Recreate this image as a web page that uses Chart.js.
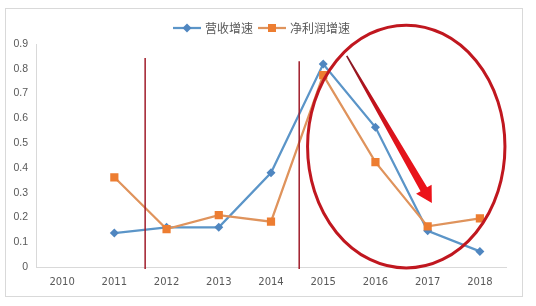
<!DOCTYPE html>
<html>
<head>
<meta charset="utf-8">
<script src="https://cdn.jsdelivr.net/npm/chart.js@4.4.1/dist/chart.umd.min.js"></script>
<style>
  html, body { margin: 0; padding: 0; background: #fff; }
  body { width: 536px; height: 306px; position: relative; overflow: hidden; }
  #frame { position: absolute; left: 5px; top: 8px; width: 518px; height: 289px; box-sizing: border-box; border: 1px solid #d9d9d9; }
  #wrap { position: absolute; left: 6px; top: 9px; width: 516px; height: 287px; }
</style>
</head>
<body>
<div id="frame"></div>
<div id="wrap"><canvas id="c" width="516" height="287"></canvas></div>
<script>
// Year categories and growth rates (fractions)
const years = ['2010', '2011', '2012', '2013', '2014', '2015', '2016', '2017', '2018'];
const revenueGrowth = [null, 0.137, 0.160, 0.160, 0.380, 0.819, 0.564, 0.146, 0.063];
const profitGrowth  = [null, 0.362, 0.153, 0.209, 0.183, 0.774, 0.423, 0.164, 0.196];
const yTickLabels = ['0', '0.1', '0.2', '0.3', '0.4', '0.5', '0.6', '0.7', '0.8', '0.9'];
const seriesNames = ['营收增速', '净利润增速'];

// Hand-drawn highlights, anchored in data space (category index, value)
const dividerAt = [1.59, 4.54];
const dividerTop = [0.844, 0.83];
const focusRing = { cx: 6.59, cy: 0.486, rx: 1.89, ry: 0.49 };
const trendArrow = { from: [5.45, 0.852], to: [7.08, 0.258] };

const BLUE_LINE = '#5b95c8', BLUE_MARK = '#4f86c0';
const ORANGE_LINE = '#df935c', ORANGE_MARK = '#ed7d31';
const TEXT = '#595959';

function legendSwatch(lineColor, markColor, shape) {
  const c = document.createElement('canvas');
  c.width = 28; c.height = 12;
  const g = c.getContext('2d');
  g.strokeStyle = lineColor; g.lineWidth = 2.25;
  g.beginPath(); g.moveTo(0, 6); g.lineTo(28, 6); g.stroke();
  g.fillStyle = markColor;
  if (shape === 'diamond') {
    g.beginPath(); g.moveTo(14, 1.5); g.lineTo(18.5, 6); g.lineTo(14, 10.5); g.lineTo(9.5, 6); g.closePath(); g.fill();
  } else {
    g.fillRect(10, 2, 8, 8);
  }
  return c;
}
const swatches = [legendSwatch(BLUE_LINE, BLUE_MARK, 'diamond'), legendSwatch(ORANGE_LINE, ORANGE_MARK, 'square')];

const highlights = {
  id: 'highlights',
  afterDatasetsDraw(chart) {
    const { ctx, scales: { x, y } } = chart;
    ctx.save();
    // vertical dividers
    ctx.strokeStyle = '#a01c2a';
    ctx.lineWidth = 1.5;
    dividerAt.forEach((d, i) => {
      const px = x.getPixelForValue(d);
      ctx.beginPath();
      ctx.moveTo(px, y.getPixelForValue(dividerTop[i]));
      ctx.lineTo(px, y.getPixelForValue(0) + 2);
      ctx.stroke();
    });
    // ring around the recent years
    const cx = x.getPixelForValue(focusRing.cx), cy = y.getPixelForValue(focusRing.cy);
    const rx = x.getPixelForValue(focusRing.cx + focusRing.rx) - cx;
    const ry = cy - y.getPixelForValue(focusRing.cy + focusRing.ry);
    ctx.strokeStyle = '#c0171f';
    ctx.lineWidth = 3;
    ctx.beginPath();
    ctx.ellipse(cx, cy, rx, ry, 0, 0, Math.PI * 2);
    ctx.stroke();
    // tapered downward arrow
    const sx = x.getPixelForValue(trendArrow.from[0]), sy = y.getPixelForValue(trendArrow.from[1]);
    const tx = x.getPixelForValue(trendArrow.to[0]), ty = y.getPixelForValue(trendArrow.to[1]);
    const len = Math.hypot(tx - sx, ty - sy);
    const ux = (tx - sx) / len, uy = (ty - sy) / len;
    const px = uy, py = -ux;
    const headLen = 16, headHalf = 9, w0 = 0.8, w1 = 3.8;
    const bx = tx - headLen * ux, by = ty - headLen * uy;
    const grad = ctx.createLinearGradient(sx, sy, tx, ty);
    grad.addColorStop(0, '#801a24');
    grad.addColorStop(0.25, '#b8121c');
    grad.addColorStop(0.6, '#e2141c');
    grad.addColorStop(1, '#ee1219');
    ctx.fillStyle = grad;
    ctx.beginPath();
    ctx.moveTo(sx + w0 * px, sy + w0 * py);
    ctx.lineTo(bx + w1 * px, by + w1 * py);
    ctx.lineTo(bx + headHalf * px, by + headHalf * py);
    ctx.lineTo(tx, ty);
    ctx.lineTo(bx - headHalf * px, by - headHalf * py);
    ctx.lineTo(bx - w1 * px, by - w1 * py);
    ctx.lineTo(sx - w0 * px, sy - w0 * py);
    ctx.closePath();
    ctx.fill();
    ctx.restore();
  }
};

new Chart(document.getElementById('c'), {
  type: 'line',
  data: {
    labels: years,
    datasets: [
      {
        label: seriesNames[0], data: revenueGrowth, order: 1,
        borderColor: BLUE_LINE, backgroundColor: BLUE_MARK, borderWidth: 2.25,
        pointStyle: 'rectRot', pointRadius: 4.5, pointBackgroundColor: BLUE_MARK, pointBorderWidth: 0,
        tension: 0, spanGaps: false
      },
      {
        label: seriesNames[1], data: profitGrowth, order: 0,
        borderColor: ORANGE_LINE, backgroundColor: ORANGE_MARK, borderWidth: 2.25,
        pointStyle: 'rect', pointRadius: 5.8, pointBackgroundColor: ORANGE_MARK, pointBorderWidth: 0,
        tension: 0, spanGaps: false
      }
    ]
  },
  options: {
    responsive: false,
    animation: false,
    devicePixelRatio: 1,
    layout: { padding: { left: 13, right: 16, top: 6, bottom: 0 } },
    plugins: {
      tooltip: { enabled: false },
      legend: {
        position: 'top',
        align: 'center',
        labels: {
          usePointStyle: true,
          pointStyleWidth: 24,
          padding: 7,
          color: TEXT,
          font: { family: "'Noto Sans CJK SC', sans-serif", size: 12 },
          generateLabels: () => seriesNames.map((name, i) => ({
            text: name, pointStyle: swatches[i], fillStyle: 'transparent',
            strokeStyle: 'transparent', lineWidth: 0, hidden: false, datasetIndex: i, fontColor: TEXT
          }))
        }
      }
    },
    scales: {
      x: {
        offset: true,
        grid: { display: false, drawTicks: false, offset: true },
        border: { display: true, color: '#d9d9d9', width: 1 },
        ticks: { color: TEXT, font: { family: "'DejaVu Sans', sans-serif", size: 10 }, padding: 9, maxRotation: 0, autoSkip: false },
        afterFit: s => { s.height = 29; }
      },
      y: {
        min: 0, max: 0.9,
        afterBuildTicks: s => { s.ticks = yTickLabels.map(t => ({ value: parseFloat(t) })); },
        grid: { display: false, drawTicks: false },
        border: { display: true, color: '#d9d9d9', width: 1 },
        ticks: { color: TEXT, font: { family: "'Liberation Sans', sans-serif", size: 10.5 }, padding: 8, callback: (v, i) => yTickLabels[i] },
        afterFit: s => {
          s.width = 17;
          // labels reach into the layout padding on the left; let them draw there
          s._computeLabelArea = () => null;
        }
      }
    }
  },
  plugins: [highlights]
});
</script>
</body>
</html>
